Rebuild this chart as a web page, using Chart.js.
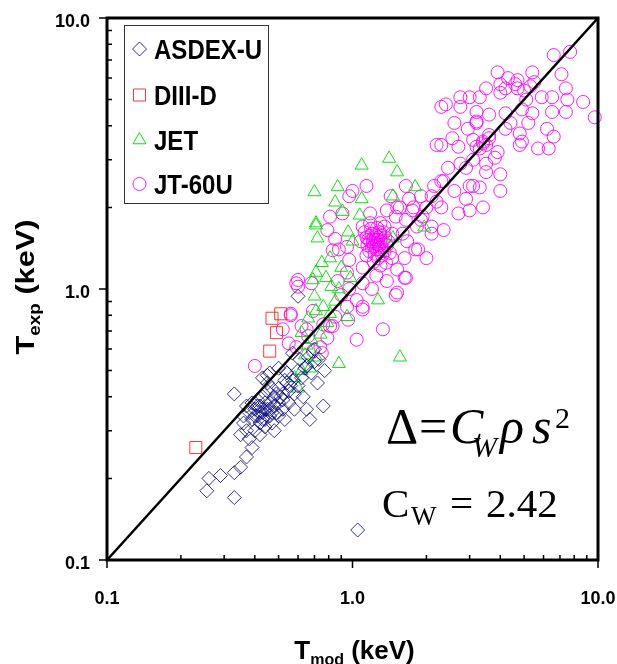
<!DOCTYPE html>
<html>
<head>
<meta charset="utf-8">
<script src="https://cdn.jsdelivr.net/npm/chart.js@4.4.0/dist/chart.umd.min.js"></script>
<style>
  html, body { margin: 0; padding: 0; background: #fff; }
  canvas { display: block; }
</style>
</head>
<body>
<canvas id="chart" width="617" height="664"></canvas>
<script>
// T_mod (keV), T_exp (keV) pairs
const asdexU = [
  [0.255,0.18],[0.26,0.2],[0.29,0.205],[0.33,0.17],[0.33,0.21],[0.35,0.22],[0.37,0.24],[0.39,0.26],
  [0.35,0.29],[0.33,0.41],[0.37,0.3],[0.38,0.28],[0.4,0.3],[0.36,0.32],[0.42,0.29],
  [0.36,0.34],[0.38,0.35],[0.39,0.33],[0.4,0.36],[0.41,0.34],[0.42,0.37],[0.43,0.35],[0.44,0.33],
  [0.45,0.36],[0.46,0.38],[0.47,0.35],[0.48,0.4],[0.5,0.38],[0.52,0.41],[0.5,0.43],[0.55,0.42],
  [0.54,0.45],[0.57,0.46],[0.45,0.42],[0.43,0.4],[0.41,0.39],[0.39,0.38],[0.37,0.37],[0.44,0.31],
  [0.47,0.32],[0.5,0.34],[0.52,0.36],[0.55,0.38],[0.58,0.41],[0.6,0.44],[0.62,0.47],[0.6,0.5],
  [0.65,0.52],[0.45,0.48],[0.45,0.45],[0.42,0.32],[0.48,0.3],[0.53,0.33],[0.58,0.36],[0.63,0.4],
  [0.43,0.47],[0.46,0.49],[0.5,0.51],[0.54,0.49],
  [0.4,0.34],[0.42,0.35],[0.44,0.38],[0.46,0.36],[0.48,0.37],[0.49,0.41],[0.51,0.4],[0.47,0.43],
  [0.44,0.36],[0.41,0.37],[0.43,0.33],[0.46,0.34],[0.49,0.35],[0.52,0.39],[0.56,0.44],[0.53,0.46],
  [0.67,0.33],[0.65,0.36],[0.76,0.37],[0.77,0.5],[0.7,0.54],[0.64,0.51],[0.72,0.45],[0.68,0.49],
  [0.73,0.55],[0.66,0.56],[0.7,0.6],[0.6,0.94],[0.57,0.58],[0.61,0.55],[0.53,0.5],[1.05,0.129]
];
const diiiD = [[0.23,0.26],[0.46,0.59],[0.47,0.78],[0.49,0.69],[0.51,0.81]];
const jet = [
  [1.09,2.86],[1.41,3.03],[1.52,2.7],[1.8,2.38],[0.7,2.28],[0.87,2.38],[0.85,2.09],[1.09,2.15],
  [1.46,2.2],[0.91,1.93],[1.07,1.87],[0.71,1.75],[0.72,1.54],[0.96,1.62],[0.81,1.3],[0.9,1.2],
  [0.71,1.15],[0.69,1.08],[0.82,1.02],[0.88,1.0],[0.7,0.94],[0.76,0.86],[0.81,0.81],[0.95,0.79],
  [0.66,0.78],[1.27,0.91],[0.62,0.69],[1.96,1.69],[1.46,1.54],[1.56,0.56],[0.88,0.53],[0.6,0.43],
  [0.71,0.83],[0.62,0.5],[0.67,0.51],[0.71,0.56],[0.75,1.25],[0.78,1.1],[0.85,0.9],[0.65,0.62],
  [0.74,0.68],[0.58,0.47],[0.68,0.65],[1.0,1.5],[0.98,1.1],[0.79,0.75],[0.64,0.57],[0.71,1.72]
];
const jt60u = [
  [6.6,7.3],[7.7,7.5],[3.9,6.3],[5.4,6.3],[7.1,6.2],[4.7,5.5],[5.5,5.8],[3.5,5.5],[3.0,5.1],[4.0,5.3],
  [2.4,4.8],[2.75,4.7],[3.2,4.1],[7.5,5.0],[8.7,4.9],[9.7,4.3],[6.5,4.5],[5.2,4.1],[6.2,3.9],[5.7,3.3],
  [6.3,3.3],[4.8,3.4],[4.4,4.1],[2.3,3.4],[2.7,3.35],[3.4,3.5],[3.9,3.2],[2.95,3.9],[2.6,4.1],[4.0,2.65],
  [3.5,2.7],[3.0,2.4],[3.3,2.37],[4.0,2.3],[2.6,2.3],[2.3,2.5],[2.1,2.2],[2.3,2.0],[2.7,1.9],[3.0,1.95],
  [3.4,2.0],[3.5,2.9],[3.1,3.0],[2.75,2.9],[2.45,2.8],[3.2,4.5],[3.6,4.4],[4.2,4.45],[5.1,5.0],[5.9,5.1],
  [7.4,4.5],[4.8,3.75],[3.6,3.6],[3.1,3.55],[2.55,3.6],[4.0,5.7],[4.6,5.7],[4.3,6.0],
  [2.3,4.7],[2.75,5.1],[3.3,5.1],[4.2,5.5],[4.7,5.9],[7.4,5.5],[6.5,5.1],[5.4,4.45],[6.6,3.65],[4.9,3.5],
  [4.9,4.6],[3.2,3.35],[3.8,3.05],[2.9,2.8],[2.35,2.5],[2.15,2.4],[3.1,2.4],[1.65,2.4],[1.9,2.2],[2.9,2.15],
  [3.2,4.15],[3.4,3.45],[3.5,3.4],[3.3,3.3],[3.6,3.7],[4.2,3.9],[5.0,5.4],[5.3,5.6],
  [1.0,2.3],[1.14,2.4],[1.43,2.2],[1.56,2.0],[1.7,2.15],[0.91,1.9],[1.18,1.9],[1.38,1.95],[2.2,3.4],
  [1.52,2.0],[1.77,2.0],[1.93,1.85],[2.1,1.7],[1.83,1.7],[1.65,1.8],[2.0,1.3],[1.85,1.4],[1.67,1.5],
  [1.65,1.1],[1.52,1.18],[1.52,0.97],[1.38,1.07],[1.25,1.12],[1.1,1.2],[0.97,1.28],[0.88,1.4],
  [0.85,1.53],[0.79,1.65],[0.81,1.85],[0.95,1.15],[0.87,1.07],[0.97,1.0],[1.1,1.05],[1.04,0.91],
  [0.95,0.86],[1.1,0.84],[0.85,0.79],[0.76,0.74],[1.33,0.71],[0.68,1.05],[0.6,1.08],[0.56,0.81],
  [0.69,0.83],[0.79,0.66],[0.65,0.71],[1.04,0.65],
  [0.83,1.39],[0.95,1.43],[0.97,2.2],[1.5,1.85],[1.75,1.95],[1.9,1.8],[2.35,1.65],[2.1,1.6],[1.8,1.4],
  [1.63,1.3],[1.63,1.1],[1.5,0.95],[1.1,0.86],[0.83,0.73],[0.96,0.77],
  [0.4,0.52],[0.6,1.02],[0.56,0.8],[0.52,0.71],[0.55,0.63],[0.62,0.73],[0.59,0.61],[0.74,0.61],
  [0.81,0.73],[0.75,0.58],[0.69,0.59],[0.66,0.67],[0.9,0.95],[1.2,1.0],[1.45,1.3],[1.3,1.75],[1.6,1.6],
  [2.0,2.0],[2.2,2.1],[0.59,1.05],
  // dense knot near 1.3 keV
  [1.15,1.45],[1.18,1.5],[1.2,1.42],[1.22,1.55],[1.24,1.48],[1.25,1.4],[1.27,1.52],[1.28,1.45],
  [1.3,1.58],[1.31,1.43],[1.33,1.5],[1.35,1.38],[1.2,1.6],[1.17,1.38],[1.23,1.35],[1.29,1.62],
  [1.26,1.68],[1.19,1.67],[1.14,1.55],[1.12,1.62],[1.36,1.55],[1.38,1.45],[1.32,1.33],[1.27,1.3],
  [1.21,1.48],[1.25,1.57],[1.29,1.4],[1.34,1.62],[1.16,1.52],[1.22,1.44],[1.3,1.5],[1.26,1.46],
  [1.24,1.52],[1.28,1.55],[1.4,1.5],[1.42,1.36],[1.1,1.7],[1.18,1.75],[1.37,1.25],[1.3,1.22],
  [1.22,1.26],[1.14,1.33],[1.45,1.6],[1.08,1.5],[1.35,1.7]
];
const diagonal = [0.1, 10];
const majorTicks = [0.1, 1, 10];
const majorLabels = ['0.1', '1.0', '10.0'];
const minorTicks = [0.2, 0.3, 0.4, 0.5, 0.6, 0.7, 0.8, 0.9, 2, 3, 4, 5, 6, 7, 8, 9];

const seriesNames = ['ASDEX-U', 'DIII-D', 'JET', 'JT-60U'];
const seriesData = [asdexU, diiiD, jet, jt60u];
const seriesStyles = ['rectRot', 'rect', 'triangle', 'circle'];
const seriesRadius = [7, 8.5, 7.5, 6.5];
const seriesColors = ['rgba(0,0,128,0.8)', 'rgba(255,20,20,0.85)', 'rgba(0,225,0,0.95)', 'rgba(255,0,255,0.9)'];

const SANS = '"Liberation Sans", Arial, sans-serif';
const SERIF = '"Liberation Serif", "Times New Roman", serif';

function drawMarker(ctx, style, x, y, r) {
  ctx.beginPath();
  if (style === 'rectRot') {
    ctx.moveTo(x, y - r); ctx.lineTo(x + r, y); ctx.lineTo(x, y + r); ctx.lineTo(x - r, y); ctx.closePath();
  } else if (style === 'rect') {
    const s = r * Math.SQRT1_2;
    ctx.rect(x - s, y - s, 2 * s, 2 * s);
  } else if (style === 'triangle') {
    ctx.moveTo(x, y - r);
    ctx.lineTo(x + r * 0.866, y + r * 0.5);
    ctx.lineTo(x - r * 0.866, y + r * 0.5);
    ctx.closePath();
  } else {
    ctx.arc(x, y, r, 0, Math.PI * 2);
  }
  ctx.stroke();
}

// runs: [text, font, dy]
function textWidth(ctx, runs) {
  let w = 0;
  runs.forEach(r => { ctx.font = r[1]; w += ctx.measureText(r[0]).width; });
  return w;
}
function drawRuns(ctx, runs, x, y) {
  runs.forEach(r => {
    ctx.font = r[1];
    ctx.fillText(r[0], x, y + (r[2] || 0));
    x += ctx.measureText(r[0]).width;
  });
}

const framePlugin = {
  id: 'frame',
  afterDraw(chart) {
    const ctx = chart.ctx;
    const xs = chart.scales.x, ys = chart.scales.y;
    const a = chart.chartArea;
    ctx.save();
    ctx.strokeStyle = '#000';
    ctx.fillStyle = '#000';

    // box
    ctx.lineWidth = 3;
    ctx.strokeRect(a.left, a.top, a.right - a.left, a.bottom - a.top);

    // ticks
    ctx.lineWidth = 1.5;
    ctx.beginPath();
    majorTicks.forEach(v => {
      const px = xs.getPixelForValue(v), py = ys.getPixelForValue(v);
      ctx.moveTo(px, a.bottom); ctx.lineTo(px, a.bottom + 8);
      ctx.moveTo(a.left, py); ctx.lineTo(a.left - 8, py);
    });
    minorTicks.forEach(v => {
      const px = xs.getPixelForValue(v), py = ys.getPixelForValue(v);
      ctx.moveTo(px, a.bottom); ctx.lineTo(px, a.bottom - 5);
      ctx.moveTo(a.left, py); ctx.lineTo(a.left + 5, py);
    });
    ctx.stroke();

    // tick labels
    ctx.font = 'bold 18px ' + SANS;
    ctx.textBaseline = 'alphabetic';
    majorTicks.forEach((v, i) => {
      ctx.textAlign = 'center';
      ctx.fillText(majorLabels[i], xs.getPixelForValue(v), 604);
      ctx.textAlign = 'right';
      ctx.fillText(majorLabels[i], 90, ys.getPixelForValue(v) + 8.5);
    });

    // axis titles
    ctx.textAlign = 'left';
    const big = 'bold 26px ' + SANS, sub = 'bold 16px ' + SANS;
    const xTitle = [['T', big, 0], ['mod', sub, 6], [' (keV)', big, 0]];
    const wx = textWidth(ctx, xTitle);
    drawRuns(ctx, xTitle, (a.left + a.right) / 2 - wx / 2 + 2, 659);

    const yTitle = [['T', big, 0], ['exp', sub, 6], [' (keV)', big, 0]];
    const wy = textWidth(ctx, yTitle);
    ctx.save();
    ctx.translate(34, 287);
    ctx.rotate(-Math.PI / 2);
    ctx.scale(1.18, 1);
    drawRuns(ctx, yTitle, -wy / 2, 0);
    ctx.restore();

    // legend
    ctx.lineWidth = 1;
    ctx.strokeStyle = '#333';
    ctx.fillStyle = '#fff';
    ctx.fillRect(124.5, 25.5, 144, 178);
    ctx.strokeRect(124.5, 25.5, 144, 178);
    const legendY = [49, 95, 140, 184];
    seriesNames.forEach((name, i) => {
      ctx.strokeStyle = seriesColors[i];
      ctx.lineWidth = 1;
      drawMarker(ctx, seriesStyles[i], 139.5, legendY[i], seriesRadius[i]);
      ctx.save();
      ctx.translate(154, legendY[i] + 10);
      ctx.scale(0.89, 1);
      ctx.fillStyle = '#000';
      ctx.font = 'bold 27px ' + SANS;
      ctx.fillText(name, 0, 0);
      ctx.restore();
    });

    // formula
    ctx.fillStyle = '#000';
    ctx.font = '50px ' + SERIF;
    ctx.fillText('\u0394', 386, 443);
    ctx.fillText('=', 419, 443);
    ctx.font = 'italic 50px ' + SERIF;
    ctx.fillText('C', 450, 443);
    ctx.font = 'italic 30px ' + SERIF;
    ctx.fillText('W', 472, 457);
    ctx.font = 'italic 50px ' + SERIF;
    ctx.fillText('\u03C1', 500, 443);
    ctx.fillText('s', 532, 443);
    ctx.font = '30px ' + SERIF;
    ctx.fillText('2', 555, 428);

    ctx.font = '41px ' + SERIF;
    ctx.fillText('C', 382, 517);
    ctx.font = '27px ' + SERIF;
    ctx.fillText('W', 411, 525);
    ctx.font = '41px ' + SERIF;
    ctx.fillText('=', 450, 517);
    ctx.fillText('2.42', 486, 517);

    ctx.restore();
  }
};

const datasets = seriesNames.map((name, i) => ({
  label: name,
  data: seriesData[i].map(p => ({ x: p[0], y: p[1] })),
  pointStyle: seriesStyles[i],
  pointRadius: seriesRadius[i],
  pointBorderWidth: 1,
  pointBorderColor: seriesColors[i],
  pointBackgroundColor: 'rgba(0,0,0,0)',
  clip: false,
  order: i + 1
}));
datasets.push({
  type: 'line',
  label: 'T_exp = T_mod',
  data: diagonal.map(v => ({ x: v, y: v })),
  borderColor: '#000',
  borderWidth: 2.5,
  pointRadius: 0,
  showLine: true,
  order: 0
});

new Chart(document.getElementById('chart'), {
  type: 'scatter',
  data: { datasets },
  options: {
    responsive: false,
    animation: false,
    layout: { padding: { left: 107, top: 18, right: 19, bottom: 104 } },
    plugins: { legend: { display: false }, tooltip: { enabled: false } },
    scales: {
      x: { type: 'logarithmic', min: 0.1, max: 10, display: false },
      y: { type: 'logarithmic', min: 0.1, max: 10, display: false }
    }
  },
  plugins: [framePlugin]
});
</script>
</body>
</html>
